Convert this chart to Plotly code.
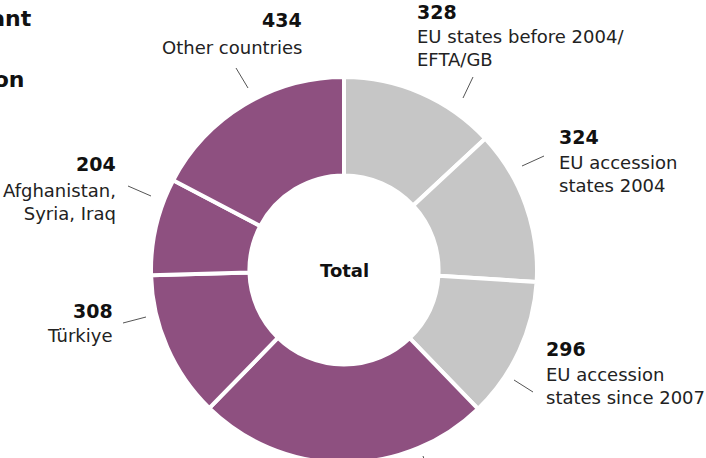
import plotly.graph_objects as go

# ---- data ----
categories = ["EU states before 2004/<br>EFTA/GB", "EU accession<br>states 2004",
              "EU accession<br>states since 2007", "Other European countries",
              "Türkiye", "Afghanistan,<br>Syria, Iraq", "Other countries"]
values = [328, 324, 296, 615, 308, 204, 434]
value_labels = [str(v) for v in values]
colors = ["#C6C6C6", "#C6C6C6", "#C6C6C6", "#8E5080", "#8E5080", "#8E5080", "#8E5080"]
center_label = "Total"
title_lines = ["Immigrant", "population"]

W, H = 706, 560
FONT = "DejaVu Sans"

def px(x):
    return x / W

def py(y):
    return 1 - y / H

fig = go.Figure()
fig.add_trace(go.Pie(
    values=values, labels=categories, sort=False, direction="clockwise", rotation=0,
    hole=0.49, textinfo="none", hoverinfo="skip", showlegend=False,
    marker=dict(colors=colors, line=dict(color="white", width=4)),
    domain=dict(x=[px(151), px(537)], y=[py(463), py(77)]),
))

# label layout: (number x, number y, text y, anchor)
label_pos = [
    (415, 12, 48, "left"),
    (557, 137, 174, "left"),
    (544, 349, 386, "left"),
    (423, 490, 527, "left"),
    (115, 311, 335, "right"),
    (118, 164, 202, "right"),
    (304, 20, 47, "right"),
]
leaders = [
    ((463, 98), (473, 77)),
    ((522, 166), (544, 156)),
    ((514, 380), (533, 392)),
    ((423, 456), (430, 476)),
    ((123, 323), (146, 317)),
    ((128, 186), (151, 196)),
    ((236, 68), (248, 88)),
]

ann = []
shapes = []
for i, (nx, ny, ty, anc) in enumerate(label_pos):
    ann.append(dict(x=px(nx), y=py(ny), xref="paper", yref="paper", text="<b>%s</b>" % value_labels[i],
                    showarrow=False, xanchor=anc, yanchor="middle", align=anc,
                    font=dict(family=FONT, size=19, color="#111111")))
    ann.append(dict(x=px(nx), y=py(ty), xref="paper", yref="paper", text=categories[i],
                    showarrow=False, xanchor=anc, yanchor="middle", align=anc,
                    font=dict(family=FONT, size=18, color="#222222")))
    (x0, y0), (x1, y1) = leaders[i]
    shapes.append(dict(type="line", xref="paper", yref="paper", x0=px(x0), y0=py(y0), x1=px(x1), y1=py(y1),
                       line=dict(color="#555555", width=1)))

ann.append(dict(x=px(344), y=py(270), xref="paper", yref="paper", text="<b>%s</b>" % center_label,
                showarrow=False, xanchor="center", yanchor="middle",
                font=dict(family=FONT, size=18, color="#111111")))
ann.append(dict(x=px(34), y=py(18), xref="paper", yref="paper", text="<b>%s</b>" % title_lines[0],
                showarrow=False, xanchor="right", yanchor="middle",
                font=dict(family=FONT, size=22, color="#111111")))
ann.append(dict(x=px(27), y=py(80), xref="paper", yref="paper", text="<b>%s</b>" % title_lines[1],
                showarrow=False, xanchor="right", yanchor="middle",
                font=dict(family=FONT, size=22, color="#111111")))

fig.update_layout(width=W, height=H, margin=dict(l=0, r=0, t=0, b=0),
                  paper_bgcolor="white", plot_bgcolor="white",
                  annotations=ann, shapes=shapes)

fig.write_html("out.html", config={"displayModeBar": False},
               post_script="document.body.style.margin='0';document.body.style.overflow='hidden';")
